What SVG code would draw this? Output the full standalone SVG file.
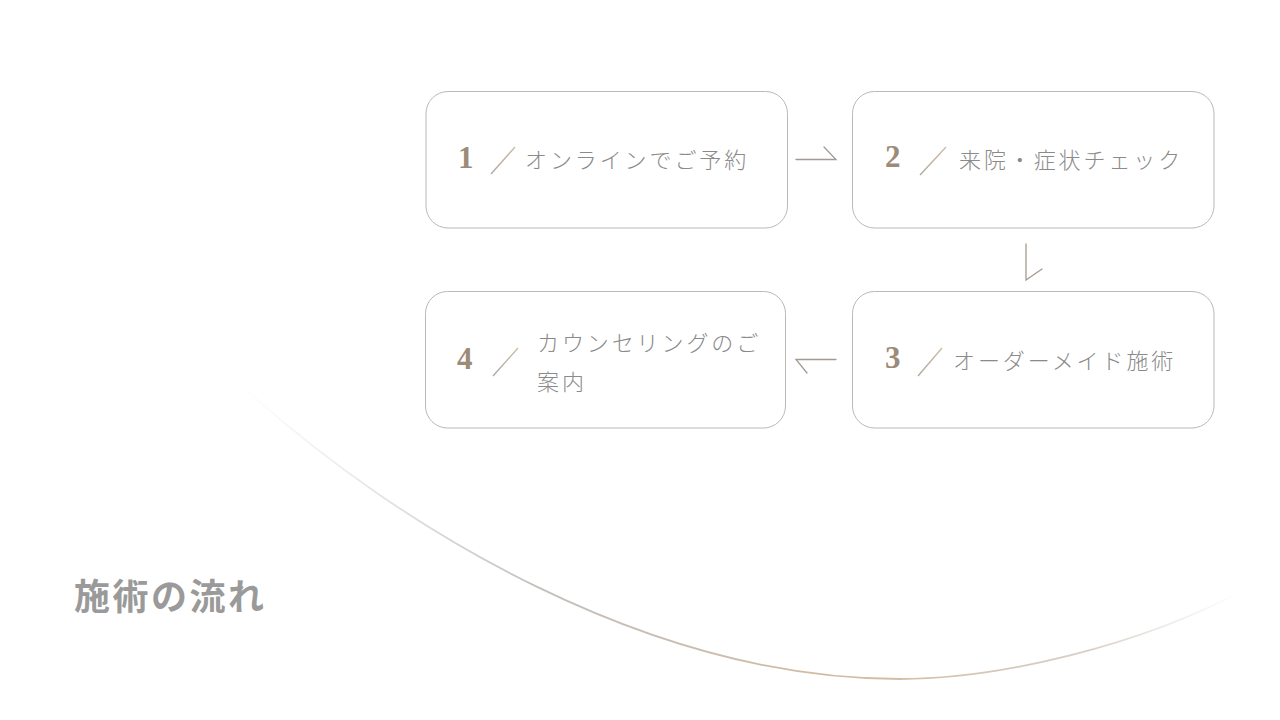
<svg xmlns="http://www.w3.org/2000/svg" width="1280" height="720" viewBox="0 0 1280 720">
<defs>
<style>
.box{fill:#ffffff;stroke:#bdb8b4;stroke-width:1}
.num{font-family:"Liberation Serif",serif;font-size:31px;font-weight:bold;fill:#9d8b79}
.lbl{font-family:"Noto Sans CJK JP",sans-serif;font-size:22px;font-weight:300;fill:#8a8a8a;letter-spacing:2.9px}
.sl{stroke:url(#slg);stroke-width:1.4;fill:none}
.conn{stroke:#a39b93;stroke-width:1.3;fill:none;stroke-linecap:round}
.title{font-family:"Noto Sans CJK JP",sans-serif;font-size:36px;font-weight:bold;fill:#9a9a9a;letter-spacing:2.5px}
</style>
<linearGradient id="slg" x1="0" y1="1" x2="1" y2="0">
<stop offset="0" stop-color="#b0a89f"/>
<stop offset="1" stop-color="#cdbba7"/>
</linearGradient>
<linearGradient id="arc" gradientUnits="userSpaceOnUse" x1="240" y1="0" x2="1240" y2="0">
<stop offset="0" stop-color="#c8c4c0" stop-opacity="0"/>
<stop offset="0.3" stop-color="#bdb8b3" stop-opacity="0.9"/>
<stop offset="0.62" stop-color="#d2bba0"/>
<stop offset="0.85" stop-color="#cfc4b8" stop-opacity="0.8"/>
<stop offset="1" stop-color="#d8d0c8" stop-opacity="0"/>
</linearGradient>
</defs>
<rect width="1280" height="720" fill="#ffffff"/>
<path d="M243,387 C400,530 650,679 900,679 C1000,679 1140,645 1240,592" fill="none" stroke="url(#arc)" stroke-width="1.8"/>
<text class="title" x="74" y="610">施術の流れ</text>
<g id="step1">
<rect class="box" x="426" y="91.5" width="361.5" height="136.5" rx="22"/>
<text class="num" x="458" y="168">1</text>
<line class="sl" x1="491" y1="174" x2="515" y2="147"/>
<text class="lbl" x="525" y="168">オンラインでご予約</text>
</g>
<g id="step2">
<rect class="box" x="852.5" y="91.5" width="361.5" height="136.5" rx="22"/>
<text class="num" x="885" y="167">2</text>
<line class="sl" x1="920" y1="175" x2="946" y2="147"/>
<text class="lbl" x="959" y="168">来院・症状チェック</text>
</g>
<g id="step3">
<rect class="box" x="852.5" y="291.5" width="361.5" height="136.5" rx="22"/>
<text class="num" x="885" y="368">3</text>
<line class="sl" x1="918" y1="376" x2="942" y2="348"/>
<text class="lbl" x="953" y="369">オーダーメイド施術</text>
</g>
<g id="step4">
<rect class="box" x="425.5" y="291.5" width="360" height="136.5" rx="22"/>
<text class="num" x="457" y="369">4</text>
<line class="sl" x1="493" y1="376" x2="518" y2="348"/>
<text class="lbl" x="537" y="351">カウンセリングのご</text>
<text class="lbl" x="537" y="390">案内</text>
</g>
<g id="connectors">
<path class="conn" d="M796,159.5 L836,159.5 L824,147"/>
<path class="conn" d="M1026,244 L1026,280 L1042,269"/>
<path class="conn" d="M836,359.5 L796,359.5 L807,373"/>
</g>
</svg>
